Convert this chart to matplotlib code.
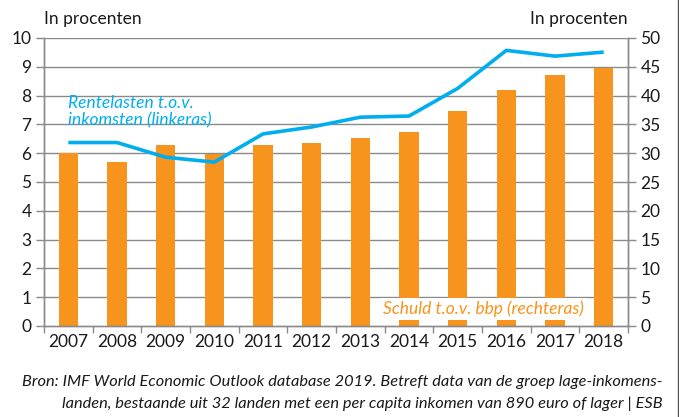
import numpy as np
import matplotlib.pyplot as plt
from matplotlib.lines import Line2D

plt.rcParams['font.family'] = 'Lato'

# DATA
years = ['2007', '2008', '2009', '2010', '2011', '2012',
         '2013', '2014', '2015', '2016', '2017', '2018']
schuld = [30.1, 28.4, 31.5, 29.9, 31.5, 31.7, 32.7, 33.6, 37.4, 41.0, 43.6, 44.8]
rente = [6.37, 6.37, 5.86, 5.69, 6.67, 6.91, 7.25, 7.29, 8.25, 9.57, 9.37, 9.51]

orange = '#F7941D'
blue = '#00AEEF'
grid_c = '#8a8a8a'
txt = '#1a1a1a'

fig = plt.figure(figsize=(6.79, 4.17), dpi=100)
ax = fig.add_axes([44/679, 1-326/417, 584/679, 288/417])
ax2 = ax.twinx()

x = np.arange(len(years))

# bars on right axis
ax2.bar(x, schuld, width=0.4, color=orange, zorder=2)
ax2.set_ylim(0, 50)
ax2.set_yticks(np.arange(0, 51, 5))

# line on left axis, drawn above bars
ax.set_zorder(ax2.get_zorder() + 1)
ax.patch.set_visible(False)
ax.plot(x, rente, color=blue, lw=2.6, zorder=3, solid_capstyle='butt')
ax.set_ylim(0, 10)
ax.set_yticks(np.arange(0, 11, 1))
ax.set_xlim(-0.5, len(years) - 0.5)

# gridlines
for v in np.arange(1, 11, 1):
    ax2.axhline(v * 5, color=grid_c, lw=1.0, zorder=1)

# x ticks at category boundaries, labels at centers
ax.set_xticks(np.arange(-0.5, len(years), 1))
ax.set_xticklabels([])
ax.set_xticks(x, minor=True)
ax.set_xticklabels(years, minor=True)
ax.tick_params(axis='x', which='major', length=5, color=grid_c, width=1)
ax.tick_params(axis='x', which='minor', length=0, labelsize=12.5, colors=txt, pad=6)
ax.tick_params(axis='y', length=6, color=grid_c, width=1, labelsize=12.5, labelcolor=txt, pad=3)
ax2.tick_params(axis='y', length=6, color=grid_c, width=1, labelsize=12.5, labelcolor=txt, pad=3)

for a in (ax, ax2):
    a.spines['top'].set_visible(False)
    for s in ('left', 'right', 'bottom'):
        a.spines[s].set_color(grid_c)
        a.spines[s].set_linewidth(1)

ax.tick_params(axis='x', which='both', labelcolor=txt)

# axis titles
fig.text(44/679, 1-19/417, 'In procenten', fontsize=12.5, color=txt, ha='left', va='center')
fig.text(628/679, 1-19/417, 'In procenten', fontsize=12.5, color=txt, ha='right', va='center')

# series labels
ax.text(0.0, 7.45, 'Rentelasten t.o.v.\ninkomsten (linkeras)', color=blue, fontsize=12.5,
        style='italic', ha='left', va='center', linespacing=1.1, zorder=4)
ax2.text(8.52, 3.0, 'Schuld t.o.v. bbp (rechteras)', color=orange, fontsize=12.5,
         style='italic', ha='center', va='center', zorder=5,
         bbox=dict(facecolor='white', edgecolor='none', pad=2))

# source
fig.text(663/679, 1-382/417,
         'Bron: IMF World Economic Outlook database 2019. Betreft data van de groep lage-inkomens-',
         fontsize=11.8, style='italic', color=txt, ha='right', va='center')
fig.text(663/679, 1-404/417,
         'landen, bestaande uit 32 landen met een per capita inkomen van 890 euro of lager | ESB',
         fontsize=11.8, style='italic', color=txt, ha='right', va='center')

# frame line on the right edge
fig.add_artist(Line2D([677.5/679, 677.5/679], [0, 1], color='#555555', lw=1))

fig.savefig('out.png', dpi=100)
